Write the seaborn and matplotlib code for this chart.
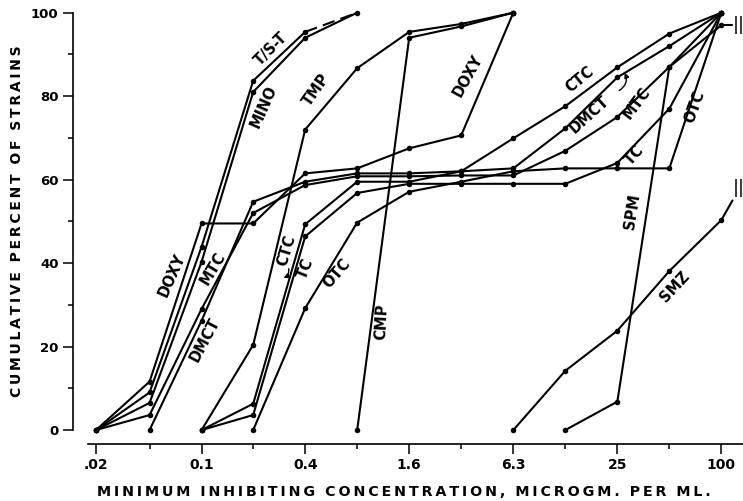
import pandas as pd
import matplotlib
matplotlib.use("Agg")
import matplotlib.pyplot as plt
import seaborn as sns

# Twofold dilution series, microgm per ml
MIC = [0.024, 0.049, 0.098, 0.195, 0.39, 0.78, 1.56, 3.12, 6.25, 12.5, 25, 50, 100]
MAJOR_MIC = [0.024, 0.098, 0.39, 1.56, 6.25, 25, 100]
MAJOR_LABELS = [".02", "0.1", "0.4", "1.6", "6.3", "25", "100"]
MINOR_MIC = [0.049, 0.195, 0.78, 3.12, 12.5, 50]
OVER_MIC = 116  # ">100" stub drawn past the last dilution

# cumulative percent of strains; each list starts at the dilution index in START
DOXY = [0, 11.6, 49.5, 49.5, 61.5, 62.7, 67.5, 70.6, 100]
MINO = [0, 6.5, 40.3, 81.0, 94.0, 100]
TST = [0, 9.0, 43.9, 83.7, 95.4, 100]
MTC = [0, 3.6, 29.0, 52.0, 58.7, 60.8, 60.8, 61.0, 61.0, 66.9, 75.0, 87.0, 100]
DMCT = [0, 26.2, 54.7, 59.5, 61.5, 61.5, 62.0, 62.7, 72.3, 84.5, 92.0, 100]
CTC = [0, 6.3, 49.3, 59.5, 59.5, 62.0, 69.9, 77.6, 86.9, 95.0, 100]
TC = [0, 3.6, 46.4, 56.8, 59.0, 59.0, 59.0, 59.0, 64.0, 77.0, 100]
OTC = [0, 29.2, 49.7, 57.1, 59.5, 62.0, 62.7, 62.7, 62.7, 100]
TMP = [0, 20.4, 72.0, 86.7, 95.4, 97.3, 100]
CMP = [0, 94.0, 96.7, 100]
SPM = [0, 6.8, 87.0, 97.0]
SMZ = [0, 14.2, 23.8, 38.1, 50.3]
SPM_OVER = 97.0
SMZ_OVER = 55.0

START = {"DOXY": 0, "MINO": 0, "T/S-T": 0, "MTC": 0, "DMCT": 1, "CTC": 2,
         "TC": 2, "OTC": 3, "TMP": 2, "CMP": 5, "SPM": 9, "SMZ": 8}
VALUES = {"DOXY": DOXY, "MINO": MINO, "T/S-T": TST[:-1], "MTC": MTC,
          "DMCT": DMCT, "CTC": CTC, "TC": TC, "OTC": OTC, "TMP": TMP,
          "CMP": CMP, "SPM": SPM, "SMZ": SMZ}

# curve labels: text, position in dilution steps (0 = .02), percent, angle
LABELS = [
    ("T/S-T", 3.35, 91.4, 45), ("MINO", 3.2, 77.4, 66), ("TMP", 4.22, 81.4, 55),
    ("DOXY", 7.13, 85.0, 61), ("DOXY", 1.43, 37.1, 66), ("MTC", 2.23, 38.7, 59),
    ("DMCT", 2.07, 21.6, 62), ("CTC", 3.64, 43.1, 73), ("TC", 4.0, 38.7, 68),
    ("OTC", 4.6, 37.5, 49), ("CMP", 5.47, 26.0, 87), ("CTC", 9.28, 84.0, 39),
    ("DMCT", 9.47, 75.5, 42), ("MTC", 10.37, 78.3, 53), ("TC", 10.34, 65.9, 48),
    ("OTC", 11.49, 77.4, 70), ("SPM", 10.28, 52.3, 81), ("SMZ", 11.1, 34.3, 47),
]


def at(step):
    """Concentration for a (fractional) dilution step."""
    return MIC[-1] * 2 ** (step - 12)


def spaced(text):
    return "  ".join("\u2009".join(word) for word in text.split(" "))


rows = []
for drug, pct in VALUES.items():
    for mic, p in zip(MIC[START[drug]:], pct):
        rows.append((drug, mic, p))
df = pd.DataFrame(rows, columns=["drug", "mic", "pct"])

sns.set_style("ticks")
plt.rcParams["font.family"] = ["DejaVu Sans"]
plt.rcParams["font.weight"] = "bold"
for key in ("text.color", "axes.edgecolor", "axes.labelcolor",
            "xtick.color", "ytick.color"):
    plt.rcParams[key] = "black"

fig = plt.figure(figsize=(7.43, 5.01), dpi=100)
ax = fig.add_axes([88 / 743, 0.1333, 655 / 743, 0.858])

sns.lineplot(data=df, x="mic", y="pct", units="drug", estimator=None,
             color="black", marker="o", markersize=4, markeredgewidth=0,
             linewidth=1.5, legend=False, ax=ax)

# T/S-T last step is dashed
ax.plot(MIC[4:6], TST[4:6], color="black", linewidth=1.5, dashes=(6, 3))

# strains beyond 100 microgm: short stub plus break mark
ax.plot([MIC[-1], OVER_MIC], [SPM[-1], SPM_OVER], color="black", linewidth=1.5)
ax.plot([MIC[-1], OVER_MIC], [SMZ[-1], SMZ_OVER], color="black", linewidth=1.5)
for y in (SPM_OVER, SMZ_OVER + 3):
    ax.text(OVER_MIC, y, "||", fontsize=13, ha="left", va="center",
            fontweight="normal")

for text, step, pct, rot in LABELS:
    ax.text(at(step), pct, text, fontsize=10.5, rotation=rot,
            rotation_mode="anchor", ha="center", va="center")

# little hook arrows
ax.annotate("", xy=(at(3.53), 36.2), xytext=(at(3.67), 39.3),
            arrowprops=dict(arrowstyle="-|>", color="black", lw=1,
                            mutation_scale=7, connectionstyle="arc3,rad=-0.5"))
ax.annotate("", xy=(at(10.12), 86.2), xytext=(at(9.99), 81.0),
            arrowprops=dict(arrowstyle="-|>", color="black", lw=1,
                            mutation_scale=7, connectionstyle="arc3,rad=0.5"))

ax.set_xscale("log", base=2)
ax.set_xlim(at(-0.179), at(12.417))
ax.set_ylim(-1, 102)
ax.set_xticks(MAJOR_MIC, MAJOR_LABELS)
ax.set_xticks(MINOR_MIC, [""] * len(MINOR_MIC), minor=True)
ax.set_yticks(range(0, 101, 20))
ax.set_yticks(range(10, 100, 20), [""] * 5, minor=True)
ax.set_xlabel("")
ax.set_ylabel("")

ax.tick_params(which="major", length=7.2, width=1.1, labelsize=10, pad=3)
ax.tick_params(which="minor", length=3.4, width=1.1)
ax.tick_params(axis="y", labelsize=9.5)

for side in ("top", "right"):
    ax.spines[side].set_visible(False)
ax.spines["left"].set_position(("outward", 11))
ax.spines["left"].set_bounds(0, 100)
ax.spines["bottom"].set_position(("outward", 7))
for side in ("left", "bottom"):
    ax.spines[side].set_linewidth(1.2)

fig.text(0.0229, 0.558, spaced("CUMULATIVE PERCENT OF STRAINS"),
         rotation=90, ha="center", va="center", fontsize=10)
fig.text(0.5437, 0.018, spaced("MINIMUM INHIBITING CONCENTRATION, MICROGM. PER ML."),
         ha="center", va="center", fontsize=10.3)

fig.savefig("out.png", dpi=100)
